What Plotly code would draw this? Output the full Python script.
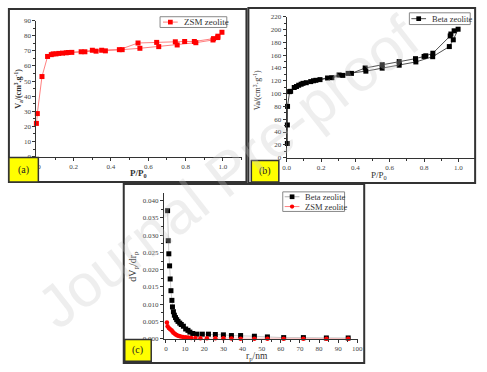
import plotly.graph_objects as go

W, H = 487, 372

# ---------------- data ----------------
# (a) ZSM zeolite isotherm
zsm_ads_p = [0.0, 0.005, 0.03, 0.06, 0.08, 0.09, 0.105, 0.12, 0.14, 0.16, 0.19, 0.26, 0.32, 0.37, 0.46,
             0.555, 0.656, 0.755, 0.855, 0.947, 0.973, 0.995]
zsm_ads_v = [22, 28.5, 53, 66.3, 67.5, 68, 68, 68.3, 68.5, 68.7, 69, 69.4, 69.8, 70, 70.8,
             71.7, 72.8, 73.9, 75.4, 77.2, 78.8, 82.3]
zsm_des_p = [0.973, 0.95, 0.847, 0.795, 0.745, 0.645, 0.545, 0.445, 0.35, 0.3, 0.24, 0.17]
zsm_des_v = [79.7, 78.1, 76.2, 76.2, 76.0, 75.6, 75.2, 70.8, 70.4, 70.4, 69.4, 68.9]

# (b) Beta zeolite isotherm
beta_ads_p = [0.004, 0.004, 0.005, 0.017, 0.044, 0.07, 0.095, 0.14, 0.17, 0.238, 0.305, 0.358, 0.461,
              0.556, 0.655, 0.752, 0.85, 0.947, 0.97, 0.998]
beta_ads_v = [22, 51, 80, 103, 109.5, 113, 116, 118.7, 120.7, 124.3, 129, 131.5, 135,
              139.7, 144.3, 149.4, 157.6, 173.4, 184, 200.5]
beta_des_p = [0.975, 0.956, 0.952, 0.851, 0.81, 0.8, 0.75, 0.655, 0.556, 0.457, 0.377, 0.327, 0.263,
              0.194, 0.156, 0.114, 0.084, 0.057, 0.023]
beta_des_v = [198, 193, 190, 163, 159, 158, 154.5, 150, 145, 140, 131.5, 128.4, 124.8,
              121.8, 120, 117, 114.6, 111, 103.5]

# (c) pore size distribution
beta_r = [0.85, 1.2, 1.5, 1.9, 2.2, 2.6, 3.1, 3.4, 3.9, 4.4, 5.0, 5.6, 6.3, 7.2, 8.0, 9.1, 10.3, 11.5,
          12.5, 14, 16.2, 19, 22.2, 25.8, 30, 34.2, 39, 46.2, 53, 61.5, 71.8, 83.8, 95.2]
beta_dv = [0.0371, 0.0284, 0.0246, 0.0211, 0.0173, 0.0139, 0.0111, 0.0092, 0.0078, 0.0068, 0.0061,
           0.0055, 0.0050, 0.0045, 0.0041, 0.0036, 0.0028, 0.0024, 0.0019, 0.0015, 0.0013, 0.0013,
           0.0013, 0.0012, 0.0011, 0.0009, 0.0009, 0.0007, 0.0005, 0.0003, 0.0003, 0.0002, 0.0002]
zsm_r = [0.5, 0.85, 1.5, 2.2, 2.9, 3.4, 3.9, 4.6, 5.3, 6.0, 6.8, 7.7, 8.9, 10.3, 11.6, 13.2, 15.4, 18,
         21.4, 25.8, 30, 34.2, 39, 46.2, 53, 61.5, 71.8, 83.8, 95.2]
zsm_dv = [0.0047, 0.0036, 0.0031, 0.0027, 0.0024, 0.0021, 0.0017, 0.0014, 0.0011, 0.0009, 0.0008,
          0.0006, 0.0005, 0.0004, 0.0003, 0.0002, 0.0002, 0.0001, 0.0001, 0.0001, 0.0001, 0.00005,
          0, 0, 0, 0, 0, 0, 0]

series_names = ["ZSM zeolite", "Beta zeolite"]

# ---------------- helpers ----------------
def px(x):
    return x / W

def py(y):
    return 1 - y / H

SERIF = "Liberation Serif"
tickfont = dict(family=SERIF, size=7, color="#444")
RED, RED_LINE, BLACK = "#ff0000", "#ff6060", "#000000"

fig = go.Figure()

fig.add_trace(go.Scatter(
    x=zsm_ads_p + zsm_des_p, y=zsm_ads_v + zsm_des_v, mode="lines+markers",
    name=series_names[0], line=dict(color=RED_LINE, width=0.8),
    marker=dict(symbol="square", size=5, color=RED),
    xaxis="x", yaxis="y", cliponaxis=False))

fig.add_trace(go.Scatter(
    x=beta_ads_p + beta_des_p, y=beta_ads_v + beta_des_v, mode="lines+markers",
    name=series_names[1], line=dict(color="#222", width=0.8),
    marker=dict(symbol="square", size=5, color=BLACK),
    xaxis="x2", yaxis="y2", cliponaxis=False))

fig.add_trace(go.Scatter(
    x=beta_r, y=beta_dv, mode="lines+markers", name=series_names[1],
    line=dict(color="#999", width=0.5),
    marker=dict(symbol="square", size=5, color=BLACK),
    xaxis="x3", yaxis="y3", cliponaxis=False))

fig.add_trace(go.Scatter(
    x=zsm_r, y=zsm_dv, mode="lines+markers", name=series_names[0],
    line=dict(color=RED_LINE, width=0.5),
    marker=dict(symbol="circle", size=4.5, color=RED),
    xaxis="x3", yaxis="y3", cliponaxis=False))

axcommon = dict(showline=True, linecolor="#333", linewidth=1, ticks="outside", ticklen=3,
                tickwidth=1, tickcolor="#333", showgrid=False, zeroline=False,
                tickfont=tickfont)
minor = lambda d: dict(dtick=d, ticklen=2, ticks="outside", tickcolor="#333")

fig.update_layout(
    width=W, height=H, margin=dict(l=0, r=0, t=0, b=0),
    paper_bgcolor="white", plot_bgcolor="rgba(0,0,0,0)", showlegend=False,
    xaxis=dict(domain=[px(33), px(242)], range=[0, 1.1], tick0=0, dtick=0.2, tickformat=".1f",
               minor=minor(0.1), anchor="y", **axcommon),
    yaxis=dict(domain=[py(156), py(17)], range=[0, 90], tick0=0, dtick=10,
               minor=minor(5), anchor="x", **axcommon),
    xaxis2=dict(domain=[px(288), px(480.5)], range=[0, 1.1], tick0=0, dtick=0.2, tickformat=".1f",
                minor=minor(0.1), anchor="y2", **axcommon),
    yaxis2=dict(domain=[py(157), py(13)], range=[0, 220], tick0=0, dtick=20,
                minor=minor(10), anchor="x2", **axcommon),
    xaxis3=dict(domain=[px(163), px(361)], range=[-1.03, 100.5], tick0=0, dtick=10,
                minor=minor(5), anchor="y3", **axcommon),
    yaxis3=dict(domain=[py(342), py(193)], range=[0, 0.04227], tick0=0, dtick=0.005, tickformat=".3f",
                minor=minor(0.0025), anchor="x3", **axcommon),
)

shapes = []
annotations = []

def rect(x0, y0, x1, y1, **kw):
    d = dict(type="rect", xref="paper", yref="paper", x0=px(x0), x1=px(x1),
             y0=py(y1), y1=py(y0), layer="above")
    d.update(kw)
    shapes.append(d)

def label(text, x, y, size, angle=0, xanchor="center", family=SERIF, color="#333"):
    annotations.append(dict(text=text, xref="paper", yref="paper", x=px(x), y=py(y),
                            xanchor=xanchor, yanchor="middle", showarrow=False,
                            textangle=angle, font=dict(family=family, size=size, color=color)))

# panel frames
for (x0, y0, x1, y1) in [(5, 5, 247, 182), (249, 4, 480, 183), (122, 184, 367, 367)]:
    rect(x0, y0, x1, y1, line=dict(color="#333", width=2))

# yellow label boxes
boxes = [((5, 157, 35, 182), "(a)"), ((252, 160, 280, 182), "(b)"), ((123, 343, 150, 365), "(c)")]
for (x0, y0, x1, y1), t in boxes:
    rect(x0, y0, x1, y1, fillcolor="#ffff00", line=dict(color="#333", width=1.5))
    label(t, (x0 + x1) / 2, (y0 + y1) / 2, 10, color="#222")

# hand-drawn compact legends
def legend_box(x0, y0, x1, y1):
    rect(x0, y0, x1, y1, fillcolor="white", line=dict(color="#888", width=1))

def legend_item(xl, yc, name, mcolor, lcolor, symbol, fs=8.5):
    shapes.append(dict(type="line", xref="paper", yref="paper", x0=px(xl), x1=px(xl + 15),
                       y0=py(yc), y1=py(yc), line=dict(color=lcolor, width=0.8), layer="above"))
    cx = xl + 7.5
    s = 2.4 if symbol == "square" else 2.2
    shapes.append(dict(type="rect" if symbol == "square" else "circle", xref="paper", yref="paper",
                       x0=px(cx - s), x1=px(cx + s), y0=py(yc + s), y1=py(yc - s),
                       fillcolor=mcolor, line=dict(width=0), layer="above"))
    label(name, xl + 19, yc, fs, xanchor="left")

legend_box(159, 13, 227, 24)
legend_item(162, 18.5, series_names[0], RED, RED_LINE, "square", 9)
legend_box(413, 9, 475, 21)
legend_item(415, 15, series_names[1], BLACK, "#222", "square", 8.5)
legend_box(284, 192, 347, 212)
legend_item(286, 197, series_names[1], BLACK, "#999", "square", 8.5)
legend_item(286, 207, series_names[0], RED, RED_LINE, "circle", 8.5)

# axis titles
label("<b>P/P<sub>0</sub></b>", 137, 173, 9)
label("<b>V<sub>a</sub>/(cm<sup>3</sup>.g<sup>-1</sup>)</b>", 14, 87, 8, angle=-90)
label("P/P<sub>0</sub>", 382, 175, 9)
label("Va/(cm<sup>3</sup>·g<sup>-1</sup>)", 258, 88, 8, angle=-90)
label("dV<sub>p</sub>/dr<sub>p</sub>", 132, 268, 10, angle=-90)
label("r<sub>p</sub>/nm", 258, 360.5, 9.5)
# watermark
label("Journal Pre-proof", 228, 172, 60, angle=-38, family="Liberation Sans",
      color="rgba(200,200,200,0.3)")

fig.update_layout(shapes=shapes, annotations=annotations)

fig.write_html("out.html", config={"displayModeBar": False, "staticPlot": True},
               post_script="document.body.style.margin='0';document.body.style.overflow='hidden';")
